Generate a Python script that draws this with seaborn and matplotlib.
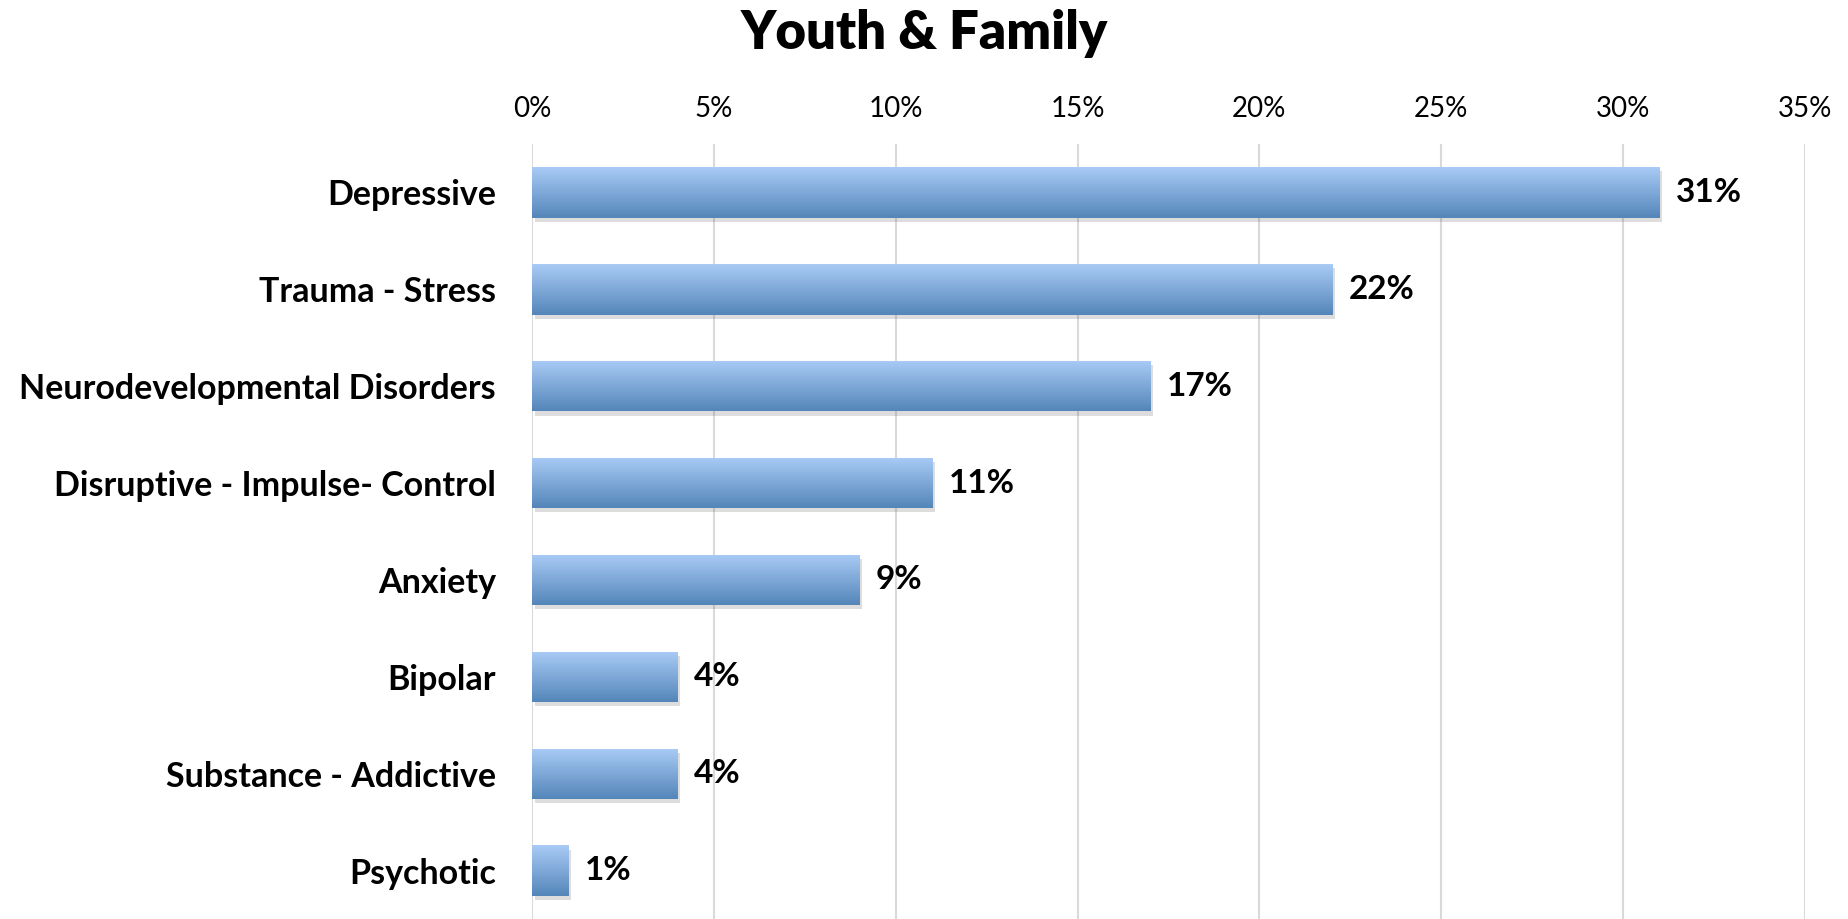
import numpy as np
import pandas as pd
import seaborn as sns
import matplotlib.pyplot as plt
import matplotlib.patheffects as pe
from matplotlib.colors import LinearSegmentedColormap
from matplotlib.ticker import FuncFormatter

# -------------------------------
# Data
# -------------------------------
categories = ["Depressive", "Trauma - Stress", "Neurodevelopmental Disorders",
              "Disruptive - Impulse- Control", "Anxiety", "Bipolar",
              "Substance - Addictive", "Psychotic"]
percent = [31, 22, 17, 11, 9, 4, 4, 1]
x_ticks = [0, 5, 10, 15, 20, 25, 30, 35]

df = pd.DataFrame({"Category": categories, "Percent": percent})

sns.set_theme(style="white")
plt.rcParams["font.family"] = ["Lato", "DejaVu Sans"]
plt.rcParams["text.color"] = "black"
plt.rcParams["xtick.color"] = "black"
plt.rcParams["ytick.color"] = "black"

fig = plt.figure(figsize=(18.49, 9.19), dpi=100)
ax = fig.add_axes([0.2877, 0.0, 0.9762 - 0.2877, 0.8433])

sns.barplot(data=df, x="Percent", y="Category", orient="h",
            color="#7fa8d8", width=0.52, ax=ax, zorder=2)

# gradient fill + soft shadow on each bar
grad = LinearSegmentedColormap.from_list("g", ["#a9cbf5", "#5486ba"])
img = np.linspace(0, 1, 100).reshape(-1, 1)
for bar in ax.patches:
    x0, y0 = bar.get_x(), bar.get_y()
    w, h = bar.get_width(), bar.get_height()
    bar.set_linewidth(0)
    bar.set_path_effects([pe.SimplePatchShadow(offset=(2, -3), alpha=0.18,
                                               shadow_rgbFace="#444444"),
                          pe.Normal()])
    im = ax.imshow(img, cmap=grad, aspect="auto", zorder=3,
                   extent=(x0, x0 + w, y0 + h, y0), origin="upper")
    im.set_clip_path(bar)
    ax.text(x0 + w + 0.45, y0 + h / 2, f"{w:.0f}%", va="center", ha="left",
            fontsize=24, fontweight="bold", color="black", zorder=4)

ax.set_xlim(0, 35)
ax.set_ylim(len(categories) - 0.5, -0.5)

ax.xaxis.tick_top()
ax.set_xticks(x_ticks)
ax.xaxis.set_major_formatter(FuncFormatter(lambda v, p: f"{v:.0f}%"))
ax.tick_params(axis="x", length=0, pad=16, labelsize=20, colors="black")
ax.tick_params(axis="y", length=0, pad=26, labelsize=24.5, colors="black")
for lbl in ax.get_yticklabels():
    lbl.set_fontweight("bold")

ax.grid(axis="x", color="#d9d9d9", linewidth=1.5, zorder=0)
ax.set_axisbelow(True)
for s in ax.spines.values():
    s.set_visible(False)
ax.set_xlabel("")
ax.set_ylabel("")

fig.suptitle("Youth & Family", x=0.5, y=0.99, va="top",
             fontsize=38, fontweight="heavy", color="black")

fig.savefig("out.png", dpi=100)
